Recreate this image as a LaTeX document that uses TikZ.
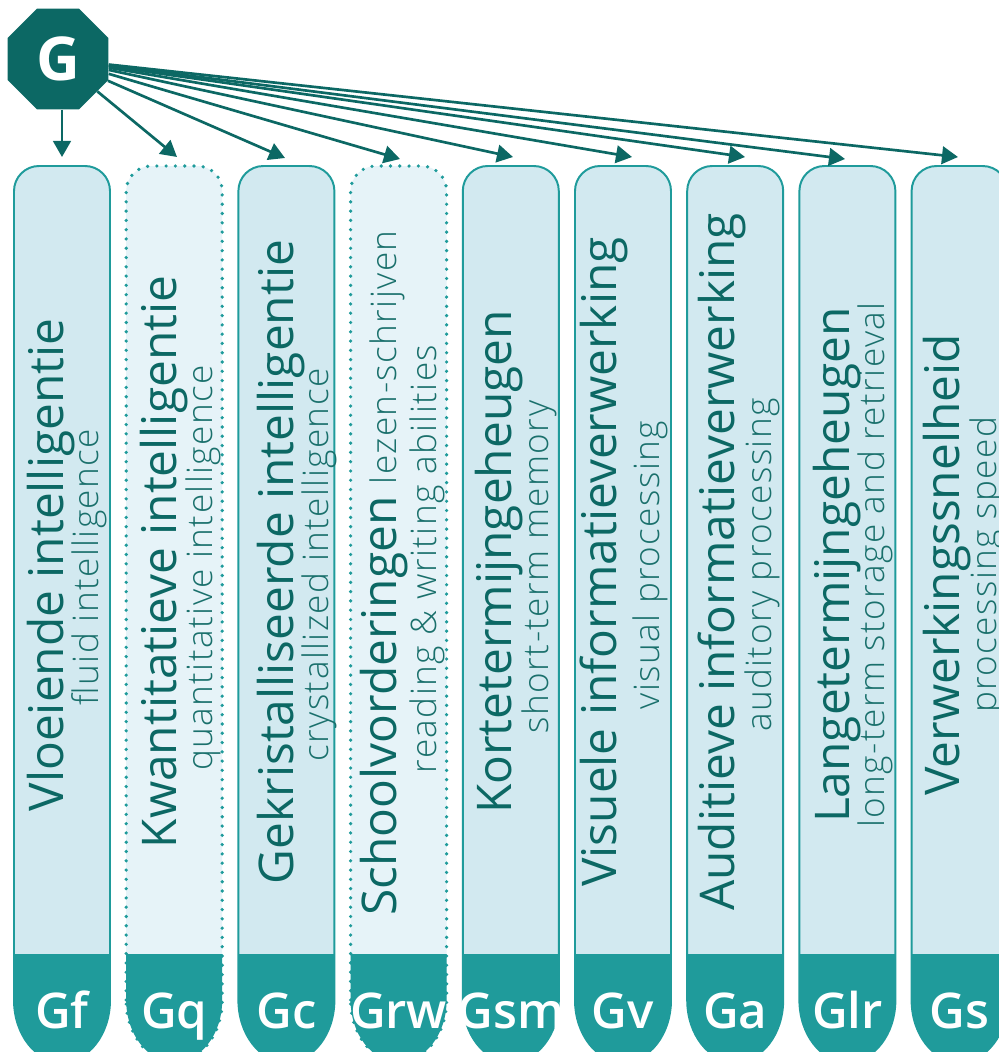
\documentclass[tikz,border=0pt]{standalone}
\usepackage{fontspec}
\setmainfont{Open Sans}
\newfontfamily\thinfont{Open Sans Light}[LetterSpace=4]
\newfontfamily\semifont{Open Sans Semibold}
\usetikzlibrary{shapes.geometric,arrows.meta}

\definecolor{gdark}{RGB}{12,104,100}
\definecolor{gsub}{RGB}{26,112,108}
\definecolor{gmid}{RGB}{31,155,155}
\definecolor{glight}{RGB}{210,233,240}
\definecolor{gpale}{RGB}{230,243,248}

% outline of one column, #1 = left edge
\newcommand{\colpath}[1]{(#1,1000) -- (#1,191) arc[start angle=180,end angle=270,radius=25] -- ({#1+71},166) arc[start angle=270,end angle=360,radius=25] -- ({#1+96},1000) arc[start angle=0,end angle=180,x radius=48,y radius=62] -- cycle}

% #1 = left edge, #2 = border style, #3 = fill
\newcommand{\gcolumn}[3]{%
  \fill[#3] \colpath{#1};
  \fill[gmid] (#1,954) -- (#1,1000) arc[start angle=180,end angle=0,x radius=48,y radius=62] -- ({#1+96},954) -- cycle;
  \draw[#2] \colpath{#1};
}

\begin{document}
\begin{tikzpicture}[x=0.025cm, y=-0.025cm,
  solidcol/.style={draw=gmid, line width=1.4pt},
  dotcol/.style={draw=gmid, line width=2.6pt, line cap=round, dash pattern=on 0pt off 6.6pt},
  link/.style={draw=gdark, line width=1.9pt, -{Triangle[length=4mm,width=4.4mm]}},
  maintxt/.style={rotate=90, anchor=base, text=gdark, inner sep=0, font=\fontsize{34}{40}\selectfont},
  subtxt/.style={rotate=90, anchor=base, text=gsub, inner sep=0, font=\thinfont\fontsize{25}{30}\selectfont},
  abbr/.style={anchor=base, text=white, inner sep=0, font=\semifont\fontsize{35}{42}\selectfont}]
\useasboundingbox (0,0) rectangle (999,1052);
\clip (0,0) rectangle (999,1052);

% columns
\gcolumn{14}{solidcol}{glight}
\gcolumn{126.2}{dotcol}{gpale}
\gcolumn{238.4}{solidcol}{glight}
\gcolumn{350.6}{dotcol}{gpale}
\gcolumn{462.8}{solidcol}{glight}
\gcolumn{575}{solidcol}{glight}
\gcolumn{687.2}{solidcol}{glight}
\gcolumn{799.4}{solidcol}{glight}
\gcolumn{911.6}{solidcol}{glight}

% texts
\node[maintxt] (m1) at (63, 565) {Vloeiende intelligentie};
\node[subtxt] (s1) at (98, 567) {fluid intelligence};
\node[maintxt] (m2) at (176, 562) {Kwantitatieve intelligentie};
\node[subtxt] (s2) at (212, 568) {quantitative intelligence};
\node[maintxt] (m3) at (293, 562) {Gekristalliseerde intelligentie};
\node[subtxt] (s3) at (328, 565) {crystallized intelligence};
\node[maintxt] (m4) at (396, 573) {Schoolvorderingen {\thinfont\fontsize{25}{30}\selectfont\color{gsub} lezen-schrijven}};
\node[subtxt] (s4) at (436, 559) {reading \& writing abilities};
\node[maintxt] (m5) at (511, 562) {Kortetermijngeheugen};
\node[subtxt] (s5) at (548, 567) {short-term memory};
\node[maintxt] (m6) at (616, 562) {Visuele informatieverwerking};
\node[subtxt] (s6) at (659, 565) {visual processing};
\node[maintxt] (m7) at (734, 562) {Auditieve informatieverwerking};
\node[subtxt] (s7) at (771, 565) {auditory processing};
\node[maintxt] (m8) at (849, 565) {Langetermijngeheugen};
\node[subtxt] (s8) at (884, 565) {long-term storage and retrieval};
\node[maintxt] (m9) at (959, 565) {Verwerkingssnelheid};
\node[subtxt] (s9) at (996, 565) {processing speed};

% abbreviations
\node[abbr] (a1) at (62, 1028) {Gf};
\node[abbr] (a2) at (174.2, 1028) {Gq};
\node[abbr] (a3) at (286.4, 1028) {Gc};
\node[abbr] (a4) at (398.6, 1028) {Grw};
\node[abbr] (a5) at (510.8, 1028) {Gsm};
\node[abbr] (a6) at (623, 1028) {Gv};
\node[abbr] (a7) at (735.2, 1028) {Ga};
\node[abbr] (a8) at (847.4, 1028) {Glr};
\node[abbr] (a9) at (959.6, 1028) {Gs};

% g factor
\node[regular polygon, regular polygon sides=8, fill=gdark, minimum size=2.73cm, inner sep=0,
  text=white, font=\bfseries\fontsize{43}{50}\selectfont] (G) at (58, 59) {G};

\coordinate (t1) at (62, 157);
\coordinate (t2) at (177, 157);
\coordinate (t3) at (285, 158);
\coordinate (t4) at (400, 159);
\coordinate (t5) at (513, 157);
\coordinate (t6) at (632, 157);
\coordinate (t7) at (745, 157);
\coordinate (t8) at (845, 159);
\coordinate (t9) at (958, 157);

\draw[link] (G.south -| t1) -- (t1);
\draw[link] (G) -- (t2);
\draw[link] (G) -- (t3);
\draw[link] (G) -- (t4);
\draw[link] (G) -- (t5);
\draw[link] (G) -- (t6);
\draw[link] (G) -- (t7);
\draw[link] (G) -- (t8);
\draw[link] (G) -- (t9);

\end{tikzpicture}
\end{document}
